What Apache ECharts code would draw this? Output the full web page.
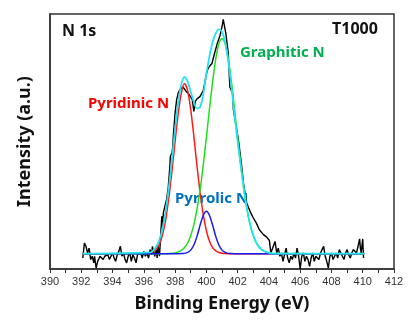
<!DOCTYPE html>
<html>
<head>
<meta charset="utf-8">
<script src="https://cdn.jsdelivr.net/npm/echarts@6/dist/echarts.min.js"></script>
<style>html,body{margin:0;padding:0;background:#fff}#c{width:415px;height:326px}</style>
</head>
<body>
<div id="c"></div>
<script>
// Binding energy (eV) tick labels
var xTicks = [390, 392, 394, 396, 398, 400, 402, 404, 406, 408, 410, 412];

// Raw measured spectrum (eV, intensity a.u.)
var rawX = [392.1,392.2,392.3,392.4,392.5,392.6,392.7,392.8,392.85,392.95,393.05,393.2,393.3,393.4,393.5,393.6,393.7,393.8,393.9,394.0,394.1,394.2,394.3,394.4,394.5,394.6,394.7,394.8,394.9,395.0,395.1,395.2,395.3,395.4,395.5,395.6,395.7,395.8,395.9,396.0,396.1,396.2,396.3,396.4,396.5,396.55,396.7,396.8,396.85,396.9,397.0,
  397.1,397.15,397.2,397.25,397.35,397.45,397.55,397.65,397.7,397.8,397.85,397.9,398.0,398.1,398.2,398.3,398.4,398.5,398.6,398.7,398.8,398.9,399.0,399.1,399.2,399.3,399.4,399.5,399.6,399.7,399.8,399.9,400.0,400.1,400.2,400.35,400.5,400.7,400.87,401.0,401.08,401.25,401.4,401.5,401.68,401.73,401.9,402.05,402.26,402.37,402.58,402.84,403.0,403.2,403.39,403.65,403.86,404.03,404.12,404.24,404.39,404.5,
  404.6,404.7,404.8,404.9,405.0,405.1,405.2,405.3,405.4,405.5,405.6,405.7,405.8,405.9,406.0,406.1,406.2,406.3,406.4,406.5,406.6,406.7,406.8,406.9,407.0,407.1,407.2,407.3,407.4,407.5,407.6,407.7,407.8,407.9,408.0,408.1,408.2,408.3,408.4,408.5,408.6,408.7,408.8,408.9,409.0,409.1,409.2,409.3,409.4,409.5,409.6,409.7,409.8,409.85,409.9,410.0,410.05];
var rawY = [4.3,10.2,8.9,6.3,8.2,3.7,5.0,2.4,5.0,0.4,3.0,5.0,5.6,3.7,5.0,4.3,5.6,3.7,5.0,6.3,4.3,3.0,5.6,6.9,8.9,5.0,6.3,3.7,2.4,5.0,6.3,3.0,5.6,4.3,2.4,5.6,5.0,6.3,4.3,6.9,5.0,6.3,4.3,7.6,5.6,8.9,5.0,7.6,4.3,9.5,5.0,
  15.4,20.7,16.7,22.0,24.6,27.2,31.1,39.0,44.2,45.5,48.0,53.3,61.2,66.4,69.0,70.3,71.0,71.4,70.6,69.7,70.3,68.4,67.7,66.4,61.8,65.8,66.7,66.4,67.7,68.0,70.0,73.0,76.5,78.5,79.5,80.5,84.0,88.5,91.5,95.0,97.9,92.2,84.6,71.5,68.6,62.5,56.0,50.7,40.3,33.7,25.9,22.0,20.0,18.0,15.4,13.5,12.5,11.2,6.3,8.2,10.8,6.3,
  8.2,5.0,6.3,3.0,5.6,8.2,4.3,2.4,5.0,3.7,6.3,4.3,8.2,5.0,0.0,5.0,6.3,3.0,5.0,3.7,1.0,4.3,6.3,3.0,5.0,5.6,3.7,6.3,7.6,8.9,5.0,3.0,0.4,5.0,6.3,3.7,5.0,6.3,4.3,7.6,8.2,5.0,3.7,6.3,7.6,5.6,4.3,6.3,7.6,8.2,6.3,8.9,11.8,8.2,6.3,11.8,4.3];

// Fitted peaks, read at 0.2 eV steps (baseline 6 outside listed range)
var fitX = [392.1,396.4,396.6,396.8,397.0,397.2,397.4,397.6,397.8,398.0,398.2,398.4,398.6,398.8,399.0,399.2,399.4,399.6,399.8,400.0,400.2,400.4,400.6,400.8,401.0,401.2,401.4,401.6,401.8,402.0,402.2,402.4,402.6,402.8,403.0,403.2,403.4,403.6,403.8,404.0,404.2,404.4,410.1];
var pyridinic = [6,6.3,6.8,7.8,9.8,13.5,19.5,28,38.5,50,61,69,72.7,70,62.5,52,40.5,30,21.4,15,10.9,8.4,7.1,6.5,6.2,6.05,6,6,6,6,6,6,6,6,6,6,6,6,6,6,6,6,6];
var graphitic = [6,6,6,6,6,6,6.02,6.05,6.15,6.3,6.7,7.3,8.4,10.2,13.1,17.4,23.4,31.1,40.7,51.5,62.8,73.5,82.4,88.3,90.3,88.3,82.4,73.5,62.8,51.5,40.7,31.1,23.4,17.4,13.1,10.2,8.4,7.3,6.7,6.3,6.15,6.05,6];
var pyrrolic = [6,6,6,6,6,6,6,6,6,6,6,6.03,6.13,6.5,7.4,9.4,12.8,17.2,21.0,22.6,21.0,17.2,12.8,9.4,7.4,6.5,6.13,6.03,6,6,6,6,6,6,6,6,6,6,6,6,6,6,6];
var envelope = [6,6.5,7.3,8.8,11.5,16,23,32,43,55,65.5,72.5,75.3,73.5,69.5,65.5,63,63.5,68.5,76.5,83.5,89,92.5,94,93,89,81.5,71.5,60.5,50,40.5,31.5,23.5,17.5,13.2,10.3,8.4,7.3,6.7,6.3,6.1,6.0,6];

function pairs(xs, ys){ return xs.map(function(x,i){ return [x, ys[i]]; }); }

var chart = echarts.init(document.getElementById('c'));
var bold = 'bold';
var ff = '"Noto Sans", sans-serif';
chart.setOption({
  animation: false,
  grid: {left: 50, right: 21, top: 14, bottom: 57, show: true, borderColor: '#333', borderWidth: 1.5, containLabel: false},
  xAxis: {
    type: 'value', min: xTicks[0], max: xTicks[xTicks.length-1], interval: 2,
    name: 'Binding Energy (eV)', nameLocation: 'middle', nameGap: 26,
    nameTextStyle: {fontFamily: ff, fontWeight: bold, fontSize: 18, color: '#111'},
    axisLine: {show: true, onZero: false, lineStyle: {color: '#333', width: 1.5}},
    axisTick: {show: true, length: 4, inside: false, lineStyle: {color: '#333'}},
    minorTick: {show: true, splitNumber: 2, length: 4, lineStyle: {color: '#333'}},
    axisLabel: {fontFamily: '"Liberation Sans", Arial, sans-serif', fontSize: 11, color: '#333', margin: 7},
    splitLine: {show: false}
  },
  yAxis: {
    type: 'value', min: 0, max: 100,
    name: 'Intensity (a.u.)', nameLocation: 'middle', nameGap: 16,
    nameTextStyle: {fontFamily: ff, fontWeight: bold, fontSize: 18, color: '#111'},
    axisLine: {show: true, lineStyle: {color: '#333', width: 1.5}},
    axisTick: {show: false}, axisLabel: {show: false}, splitLine: {show: false}
  },
  series: [
    {type: 'line', data: pairs(rawX, rawY), showSymbol: false, lineStyle: {color: '#000', width: 1.4}, z: 2},
    {type: 'line', data: pairs(fitX, pyridinic), smooth: 0.3, showSymbol: false, lineStyle: {color: '#ff1a1a', width: 1.5}, z: 3},
    {type: 'line', data: pairs(fitX, graphitic), smooth: 0.3, showSymbol: false, lineStyle: {color: '#1ee01e', width: 1.5}, z: 3},
    {type: 'line', data: pairs(fitX, pyrrolic), smooth: 0.3, showSymbol: false, lineStyle: {color: '#1a1aee', width: 1.5}, z: 3},
    {type: 'line', data: pairs(fitX, envelope), smooth: 0.3, showSymbol: false, lineStyle: {color: '#22e4f0', width: 1.8}, z: 4}
  ],
  graphic: [
    {type: 'text', left: 62, top: 23, style: {text: 'N 1s', font: 'bold 16px "Noto Sans", sans-serif', fill: '#111'}},
    {type: 'text', left: 332, top: 21, style: {text: 'T1000', font: 'bold 16px "Noto Sans", sans-serif', fill: '#111'}},
    {type: 'text', left: 240, top: 45, style: {text: 'Graphitic N', font: 'bold 15px "Noto Sans", sans-serif', fill: '#00b050'}},
    {type: 'text', left: 88, top: 96, style: {text: 'Pyridinic N', font: 'bold 15px "Noto Sans", sans-serif', fill: '#ff0000'}},
    {type: 'text', left: 175, top: 191, style: {text: 'Pyrrolic N', font: 'bold 15px "Noto Sans", sans-serif', fill: '#0070c0'}}
  ]
});
</script>
</body>
</html>
